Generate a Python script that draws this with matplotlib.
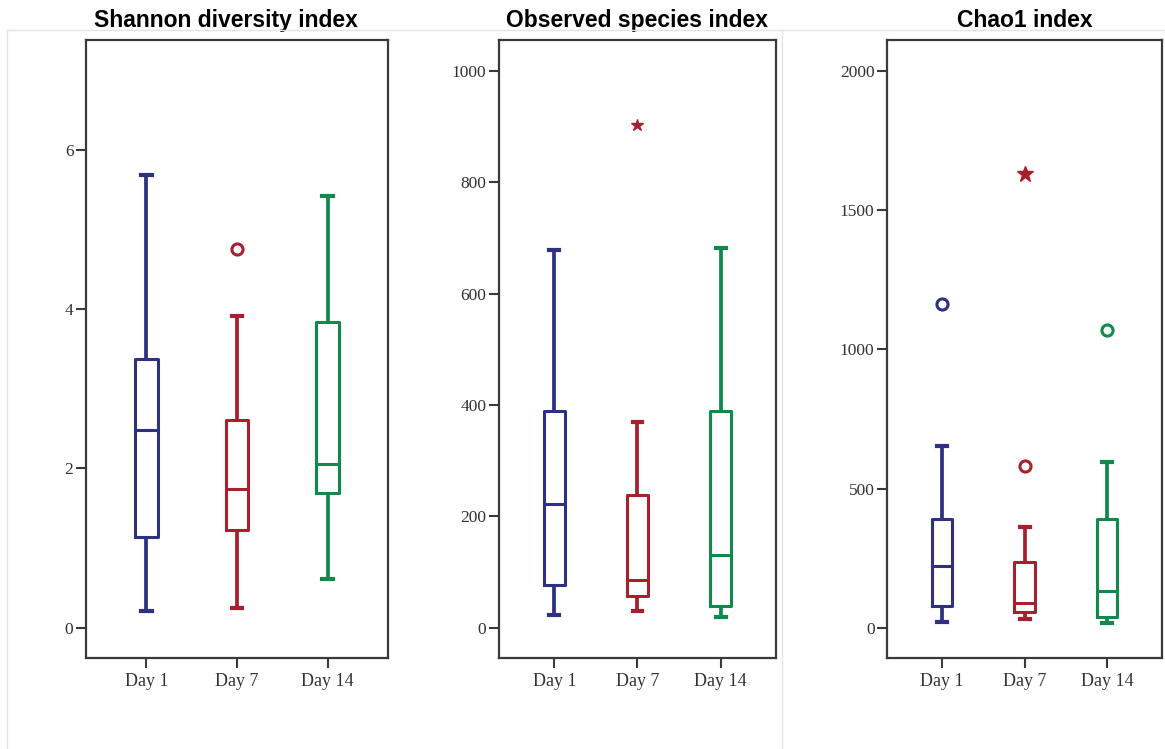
import matplotlib
matplotlib.use('Agg')
import matplotlib.pyplot as plt
from matplotlib.lines import Line2D

# ---- data ----
days = ['Day 1', 'Day 7', 'Day 14']
colors = ['#2e3182', '#a8202e', '#12894c']

titles = ['Shannon diversity index', 'Observed species index', 'Chao1 index']

# each row: [whislo, q1, median, q3, whishi] for Day 1, Day 7, Day 14
shannon = [[0.21, 1.14, 2.48, 3.37, 5.68],
           [0.25, 1.23, 1.74, 2.61, 3.92],
           [0.61, 1.69, 2.06, 3.84, 5.42]]
observed = [[23, 77, 223, 390, 679],
            [30, 57, 86, 239, 370],
            [20, 40, 131, 390, 682]]
chao1 = [[22, 79, 223, 391, 653],
         [32, 57, 90, 237, 363],
         [18, 40, 133, 391, 596]]

# outliers: (group index, value, marker)  'o' = outlier, '*' = extreme
shannon_out = [(1, 4.76, 'o')]
observed_out = [(1, 903, '*')]
chao1_out = [(0, 1163, 'o'), (1, 582, 'o'), (1, 1630, '*'), (2, 1070, 'o')]

yticks = [[0, 2, 4, 6], [0, 200, 400, 600, 800, 1000], [0, 500, 1000, 1500, 2000]]
ylims = [(-0.38, 7.38), (-54, 1055), (-108, 2111)]

# ---- layout ----
fig = plt.figure(figsize=(11.65, 7.49), dpi=100)
bottom, height = 0.1215, 0.825
rects = [[0.0738, bottom, 0.2592, height],
         [0.4283, bottom, 0.2378, height],
         [0.7614, bottom, 0.2361, height]]
title_x = [0.464, 0.5, 0.5]

# faint frame lines from the pasted panels
for seg in [([0.006, 1.0], [0.96, 0.96]), ([0.006, 0.006], [0.0, 0.96]),
            ([0.671, 0.671], [0.0, 0.96])]:
    fig.add_artist(Line2D(seg[0], seg[1], color='#e4e4e4', lw=1.0))

data_all = [shannon, observed, chao1]
out_all = [shannon_out, observed_out, chao1_out]
spine_c = '#3a3a3a'
pos = [1, 2, 3]

for k in range(3):
    ax = fig.add_axes(rects[k])
    stats = []
    for i, row in enumerate(data_all[k]):
        stats.append({'whislo': row[0], 'q1': row[1], 'med': row[2],
                      'q3': row[3], 'whishi': row[4], 'fliers': []})
    bp = ax.bxp(stats, positions=pos, widths=0.25, showfliers=False,
                capwidths=0.12, patch_artist=False)
    for i in range(3):
        c = colors[i]
        bp['boxes'][i].set(color=c, lw=2.2)
        bp['medians'][i].set(color=c, lw=2.2)
        for j in (2 * i, 2 * i + 1):
            bp['whiskers'][j].set(color=c, lw=2.7, solid_capstyle='butt')
            bp['caps'][j].set(color=c, lw=3.0)
    for g, v, m in out_all[k]:
        if m == 'o':
            ax.plot(pos[g], v, marker='o', ms=8, mfc='white', mec=colors[g],
                    mew=2.2, ls='none')
        else:
            ms = 9 if k == 1 else 12
            ax.plot(pos[g], v, marker='*', ms=ms, color=colors[g], ls='none')

    ax.set_xlim(0.333, 3.667)
    ax.set_ylim(*ylims[k])
    ax.set_xticks(pos)
    ax.set_xticklabels(days, fontsize=13)
    ax.set_yticks(yticks[k])
    ax.set_yticklabels([str(t) for t in yticks[k]], fontsize=12.5)
    for lab in ax.get_xticklabels() + ax.get_yticklabels():
        lab.set_fontfamily('Liberation Serif')
        lab.set_color('#333333')
    ax.tick_params(axis='both', length=7, width=1.5, color=spine_c)
    ax.tick_params(axis='x', pad=4)
    ax.tick_params(axis='y', pad=2)
    for s in ax.spines.values():
        s.set_color(spine_c)
        s.set_linewidth(1.6)
    ax.set_title(titles[k], fontsize=16.5, fontweight='bold',
                 fontfamily='Liberation Sans', pad=9.5, x=title_x[k])

fig.savefig('out.png', dpi=100, facecolor='white')
